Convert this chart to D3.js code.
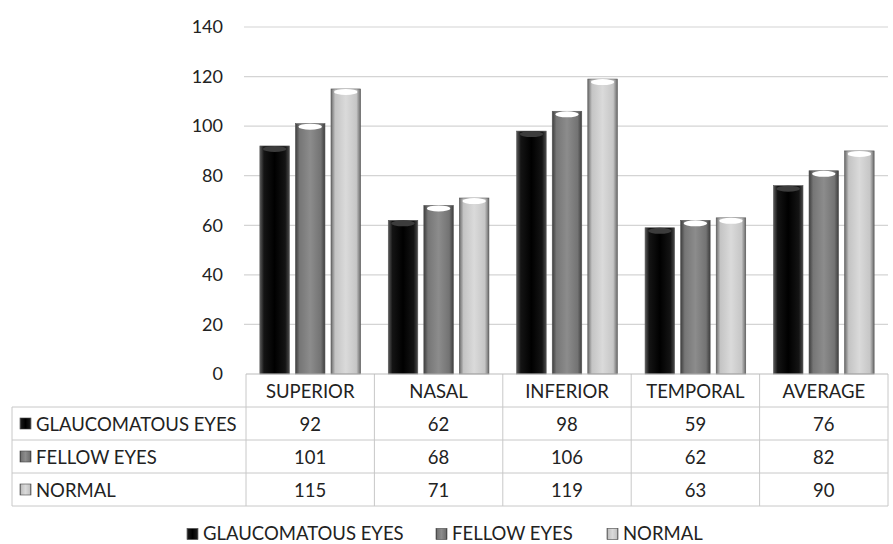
<!DOCTYPE html>
<html>
<head>
<meta charset="utf-8">
<script src="https://cdn.jsdelivr.net/npm/d3@7"></script>
<style>
	body { margin: 0; background: #fff; }
	svg { display: block; font-family: Lato, "Open Sans", sans-serif; }
</style>
</head>
<body>
<svg id="chart" width="893" height="544"></svg>
<script>
// ---- data ----
const categories = ["SUPERIOR", "NASAL", "INFERIOR", "TEMPORAL", "AVERAGE"];
const seriesNames = ["GLAUCOMATOUS EYES", "FELLOW EYES", "NORMAL"];
const glaucomatous = [92, 62, 98, 59, 76];
const fellow = [101, 68, 106, 62, 82];
const normal = [115, 71, 119, 63, 90];
const yTicks = [0, 20, 40, 60, 80, 100, 120, 140];

const seriesValues = [glaucomatous, fellow, normal];

// ---- layout ----
const svg = d3.select("#chart");
const plotLeft = 246, plotRight = 888, plotTop = 27, plotBottom = 374;
const tableLeft = 12, rowH = 33;
const fontSize = 18.5;

let x = d3.scaleBand().domain(categories).range([plotLeft, plotRight]);
let xs = d3.scaleBand().domain(seriesNames).range([0, x.bandwidth()])
	.paddingInner(0.17).paddingOuter(0.39);
let y = d3.scaleLinear().domain([0, 140]).range([plotBottom, plotTop]);

// gradients, one per series
let grads = [
	["#5a5a5a", "#141414", "#000", "#141414", "#4a4a4a"],
	["#3e3e3e", "#767676", "#8c8c8c", "#737373", "#3e3e3e"],
	["#6a6a6a", "#c4c4c4", "#dadada", "#c6c6c6", "#6a6a6a"]
];
let capFill = ["#3c3c3c", "#fff", "#fff"];
let defs = svg.append("defs");
grads.forEach((stops, i) => {
	let g = defs.append("linearGradient").attr("id", "g" + i)
		.attr("x1", 0).attr("x2", 1).attr("y1", 0).attr("y2", 0);
	[0, 0.14, 0.5, 0.86, 1].forEach((o, j) =>
		g.append("stop").attr("offset", o).attr("stop-color", stops[j]));
});

// gridlines + y labels
svg.append("g")
	.selectAll("line")
	.data(yTicks.filter(t => t > 0))
	.enter().append("line")
	.attr("x1", plotLeft - 2).attr("x2", plotRight)
	.attr("y1", d => y(d)).attr("y2", d => y(d))
	.attr("stroke", "#d4d4d4").attr("stroke-width", 1.2);

svg.append("g")
	.selectAll("text")
	.data(yTicks)
	.enter().append("text")
	.attr("x", 223).attr("y", d => y(d))
	.attr("dy", "0.35em")
	.attr("text-anchor", "end")
	.attr("font-size", 18)
	.attr("fill", "#222")
	.text(d => d);

// bars
let groups = svg.append("g")
	.selectAll("g")
	.data(categories)
	.enter().append("g")
	.attr("transform", d => "translate(" + x(d) + ",0)");

groups.each(function(cat, ci){
	let g = d3.select(this);
	seriesNames.forEach((s, si) => {
		let v = seriesValues[si][ci];
		let bx = xs(s), bw = xs.bandwidth();
		g.append("rect")
			.attr("x", bx).attr("y", y(v))
			.attr("width", bw).attr("height", plotBottom - y(v))
			.attr("fill", "url(#g" + si + ")")
			.attr("stroke", "#555").attr("stroke-width", 0.6);
		g.append("ellipse")
			.attr("cx", bx + bw / 2).attr("cy", y(v) + 3)
			.attr("rx", bw / 2 - 3).attr("ry", 3)
			.attr("fill", capFill[si]);
	});
});

// ---- data table ----
let tableBottom = plotBottom + rowH * 4;
let gridColor = "#c8c8c8";
let table = svg.append("g");

// horizontal lines
[1, 2, 3, 4].forEach(r => {
	table.append("line")
		.attr("x1", tableLeft).attr("x2", plotRight)
		.attr("y1", plotBottom + rowH * r).attr("y2", plotBottom + rowH * r)
		.attr("stroke", gridColor);
});
// vertical lines
table.append("line")
	.attr("x1", tableLeft).attr("x2", tableLeft)
	.attr("y1", plotBottom + rowH).attr("y2", tableBottom)
	.attr("stroke", gridColor);
categories.forEach(c => {
	table.append("line")
		.attr("x1", x(c)).attr("x2", x(c))
		.attr("y1", plotBottom).attr("y2", tableBottom)
		.attr("stroke", gridColor);
});
table.append("line")
	.attr("x1", plotRight).attr("x2", plotRight)
	.attr("y1", plotBottom).attr("y2", tableBottom)
	.attr("stroke", gridColor);

// axis line
svg.append("line")
	.attr("x1", plotLeft).attr("x2", plotRight)
	.attr("y1", plotBottom).attr("y2", plotBottom)
	.attr("stroke", "#bbb");

// header
table.selectAll(".hdr")
	.data(categories)
	.enter().append("text")
	.attr("class", "hdr")
	.attr("x", d => x(d) + x.bandwidth() / 2)
	.attr("y", plotBottom + rowH / 2 + 1)
	.attr("dy", "0.35em")
	.attr("text-anchor", "middle")
	.attr("font-size", fontSize)
	.attr("fill", "#222")
	.text(d => d);

function marker(sel, mx, my, si, size){
	sel.append("rect")
		.attr("x", mx).attr("y", my)
		.attr("width", size).attr("height", size)
		.attr("fill", "url(#g" + si + ")")
		.attr("stroke", "#444").attr("stroke-width", 0.6);
}

seriesNames.forEach((s, si) => {
	let cy = plotBottom + rowH * (si + 1) + rowH / 2;
	marker(table, 20, cy - 5.5, si, 11);
	table.append("text")
		.attr("x", 36).attr("y", cy + 1)
		.attr("dy", "0.35em")
		.attr("font-size", fontSize)
		.attr("fill", "#222")
		.text(s);
	categories.forEach((c, ci) => {
		table.append("text")
			.attr("x", x(c) + x.bandwidth() / 2).attr("y", cy + 1)
			.attr("dy", "0.35em")
			.attr("text-anchor", "middle")
			.attr("font-size", fontSize)
			.attr("fill", "#222")
			.text(seriesValues[si][ci]);
	});
});

// ---- legend ----
let legendX = [187, 436, 607];
let legend = svg.append("g");
seriesNames.forEach((s, si) => {
	marker(legend, legendX[si], 528.5, si, 11);
	legend.append("text")
		.attr("x", legendX[si] + 16).attr("y", 534)
		.attr("dy", "0.35em")
		.attr("font-size", fontSize)
		.attr("fill", "#222")
		.text(s);
});
</script>
</body>
</html>
